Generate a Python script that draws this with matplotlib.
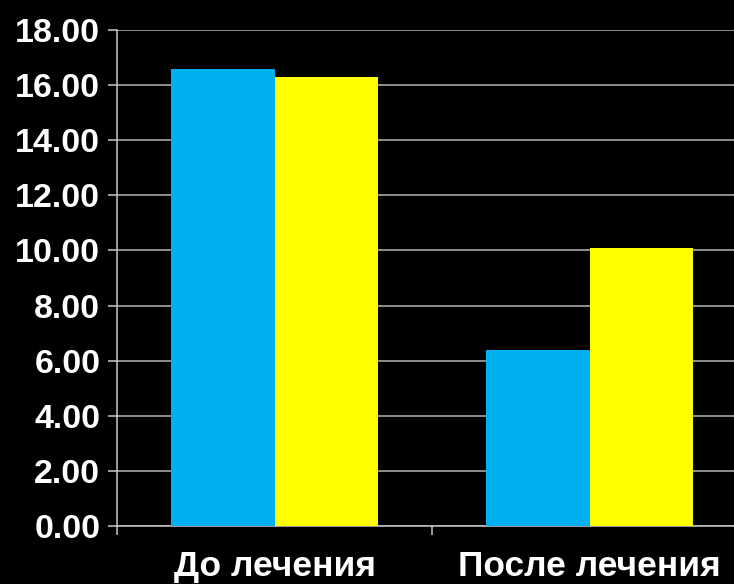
import matplotlib
matplotlib.use("Agg")
import matplotlib.pyplot as plt
import numpy as np
from matplotlib.ticker import FormatStrFormatter, FixedLocator

categories = ["До лечения", "После лечения"]
blue_vals = [16.58, 6.39]
yellow_vals = [16.28, 10.08]
y_ticks = [0, 2, 4, 6, 8, 10, 12, 14, 16, 18]

plt.rcParams['font.family'] = ['Liberation Sans', 'DejaVu Sans']
plt.rcParams['font.weight'] = 'bold'

fig = plt.figure(figsize=(7.34, 5.84), dpi=100, facecolor='black')
# axes run slightly past the right edge of the figure
ax = fig.add_axes([117 / 734, 58 / 584, 630 / 734, 496 / 584], facecolor='black')

x = np.arange(len(categories))
w = 0.33
ax.bar(x - w / 2, blue_vals, w, color='#00B0F0', zorder=3)
ax.bar(x + w / 2, yellow_vals, w, color='#FFFF00', zorder=3)

ax.set_xlim(-0.5, 1.5)
ax.set_ylim(0, 18)
ax.set_yticks(y_ticks)
ax.yaxis.set_major_formatter(FormatStrFormatter('%.2f'))
ax.yaxis.grid(True, color='#B4B4B4', linewidth=1.1, zorder=0)

ax.set_xticks(x)
ax.set_xticklabels(categories)
ax.xaxis.set_minor_locator(FixedLocator([-0.5, 0.5, 1.5]))

for s in ['top', 'right']:
    ax.spines[s].set_visible(False)
for s in ['left', 'bottom']:
    ax.spines[s].set_color('#C8C8C8')
    ax.spines[s].set_linewidth(1.1)

ax.tick_params(axis='y', colors='#C8C8C8', labelcolor='white', length=6.5,
               width=1.1, pad=5.5, labelsize=24.5)
ax.tick_params(axis='x', which='major', length=0, pad=17, labelcolor='white',
               labelsize=25.5)
ax.tick_params(axis='x', which='minor', length=6.5, width=1.1, colors='#C8C8C8')

fig.savefig('out.png', dpi=100, facecolor='black')
